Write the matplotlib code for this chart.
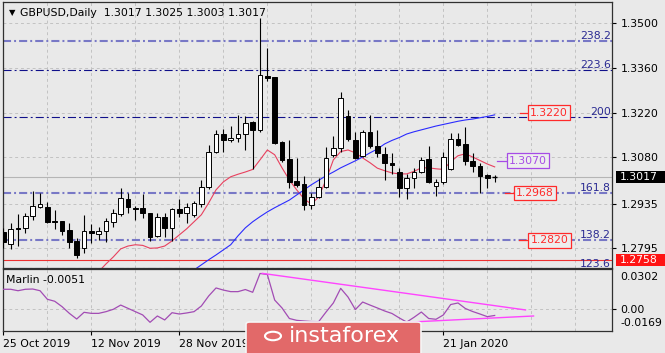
import matplotlib
matplotlib.use('Agg')
import matplotlib.pyplot as plt
import matplotlib.transforms as mtransforms
from matplotlib.patches import Rectangle, FancyBboxPatch, Circle
import numpy as np

# ---------------- data ----------------
symbol_title = "GBPUSD,Daily"
title_ohlc = ["1.3017", "1.3025", "1.3003", "1.3017"]

opens = [1.2847, 1.2808, 1.2859, 1.2860, 1.2896, 1.2924, 1.2924, 1.2880, 1.2879, 1.2852,
         1.2818, 1.2795, 1.2849, 1.2841, 1.2848, 1.2876, 1.2901, 1.2948, 1.2922, 1.2922,
         1.2905, 1.2833, 1.2892, 1.2858, 1.2917, 1.2905, 1.2899, 1.2934, 1.2988, 1.3098,
         1.3153, 1.3134, 1.3140, 1.3152, 1.3190, 1.3166, 1.3336, 1.3331, 1.3127, 1.3074,
         1.3006, 1.2995, 1.2931, 1.2957, 1.2988, 1.3087, 1.3108, 1.3209, 1.3134, 1.3085,
         1.3160, 1.3116, 1.3091, 1.3063, 1.3035, 1.2983, 1.3014, 1.3035, 1.3074, 1.2989,
         1.3003, 1.3043, 1.3137, 1.3121, 1.3068, 1.3053, 1.3025, 1.3017]
highs = [1.2857, 1.2874, 1.2902, 1.2905, 1.2973, 1.2968, 1.2939, 1.2915, 1.2881, 1.2874,
         1.2826, 1.2899, 1.2871, 1.2863, 1.2889, 1.2918, 1.2983, 1.2968, 1.2928, 1.2964,
         1.2906, 1.2906, 1.2906, 1.2920, 1.2948, 1.2938, 1.2944, 1.3009, 1.3119, 1.3166,
         1.3168, 1.3178, 1.3213, 1.3210, 1.3194, 1.3516, 1.3424, 1.3333, 1.3131, 1.3134,
         1.3079, 1.3022, 1.2968, 1.3014, 1.3113, 1.3148, 1.3284, 1.3228, 1.3160, 1.3166,
         1.3213, 1.3166, 1.3113, 1.3093, 1.3046, 1.3028, 1.3046, 1.3082, 1.3117, 1.3012,
         1.3098, 1.3155, 1.3155, 1.3175, 1.3093, 1.3062, 1.3028, 1.3025]
lows = [1.2797, 1.2793, 1.2803, 1.2842, 1.2884, 1.2920, 1.2874, 1.2855, 1.2837, 1.2797,
        1.2764, 1.2780, 1.2811, 1.2821, 1.2816, 1.2863, 1.2897, 1.2906, 1.2882, 1.2889,
        1.2819, 1.2831, 1.2831, 1.2819, 1.2894, 1.2875, 1.2894, 1.2925, 1.2980, 1.3094,
        1.3098, 1.3129, 1.3129, 1.3103, 1.3043, 1.3159, 1.3319, 1.3122, 1.3066, 1.2983,
        1.2988, 1.2915, 1.2918, 1.2952, 1.2983, 1.3082, 1.3098, 1.3131, 1.3075, 1.3082,
        1.3109, 1.3081, 1.3009, 1.3028, 1.2957, 1.2949, 1.2983, 1.3030, 1.3000, 1.2959,
        1.2996, 1.3040, 1.3114, 1.3056, 1.3035, 1.2968, 1.2984, 1.3003]
closes = [1.2814, 1.2854, 1.2856, 1.2897, 1.2927, 1.2934, 1.2876, 1.2877, 1.2849, 1.2814,
          1.2774, 1.2849, 1.2842, 1.2849, 1.2879, 1.2905, 1.2951, 1.2923, 1.2917, 1.2905,
          1.2830, 1.2894, 1.2858, 1.2917, 1.2905, 1.2925, 1.2936, 1.2988, 1.3098, 1.3153,
          1.3134, 1.3141, 1.3152, 1.3189, 1.3166, 1.3338, 1.3328, 1.3124, 1.3072, 1.3004,
          1.2993, 1.2931, 1.2957, 1.2988, 1.3079, 1.3108, 1.3265, 1.3137, 1.3077, 1.3160,
          1.3116, 1.3093, 1.3061, 1.3055, 1.2983, 1.3014, 1.3035, 1.3073, 1.3003, 1.3004,
          1.3081, 1.3136, 1.3119, 1.3068, 1.3053, 1.3020, 1.3014, 1.3017]

# red moving average (starts at bar 13), blue moving average (starts at bar 26)
red_ma_start = 13
red_ma = [1.2722, 1.2746, 1.2768, 1.2793, 1.2802, 1.2806, 1.2804, 1.2795, 1.2796, 1.2802,
          1.2818, 1.2837, 1.2856, 1.2878, 1.2900, 1.2937, 1.2978, 1.3003, 1.3019, 1.3027,
          1.3034, 1.3042, 1.3072, 1.3103, 1.3088, 1.3047, 1.3009, 1.2978, 1.2950, 1.2933,
          1.2956, 1.3009, 1.3072, 1.3098, 1.3103, 1.3094, 1.3078, 1.3063, 1.3046, 1.3038,
          1.3031, 1.3028, 1.3028, 1.3036, 1.3047, 1.3047, 1.3044, 1.3042, 1.3066, 1.3085,
          1.3091, 1.3081, 1.3070, 1.3059, 1.3050]
blue_ma_start = 26
blue_ma = [1.2727, 1.2743, 1.2759, 1.2774, 1.2790, 1.2806, 1.2834, 1.2859, 1.2878, 1.2894,
           1.2909, 1.2922, 1.2934, 1.2946, 1.2962, 1.2978, 1.2994, 1.3008, 1.3022, 1.3034,
           1.3047, 1.3058, 1.3069, 1.3081, 1.3094, 1.3106, 1.3122, 1.3133, 1.3142, 1.3153,
           1.3160, 1.3166, 1.3172, 1.3178, 1.3183, 1.3188, 1.3193, 1.3197, 1.3200, 1.3204,
           1.3208, 1.3213]

# Fibonacci levels
fib_labels = ["238.2", "223.6", "200", "161.8", "138.2", "123.6"]
fib_prices = [1.3445, 1.3354, 1.3207, 1.2968, 1.2820, 1.2730]
support_line = 1.2758
current_price = 1.3017

# price label boxes
box_texts = ["1.3220", "1.2968", "1.2820", "1.3070"]
box_prices = [1.3220, 1.2968, 1.2820, 1.3070]

price_ticks = [1.3500, 1.3360, 1.3220, 1.3080, 1.2935, 1.2795]
price_tick_labels = ["1.3500", "1.3360", "1.3220", "1.3080", "1.2935", "1.2795"]

# Marlin oscillator
marlin_name = "Marlin"
marlin_last = "-0.0051"
marlin = [0.0148, 0.0148, 0.0137, 0.0148, 0.0150, 0.0137, 0.0072, 0.0057, 0.0016, -0.0035,
          -0.0078, -0.0027, -0.0035, -0.0035, -0.0022, -0.0004, 0.0028, 0.0003, -0.0022, -0.0047,
          -0.0103, -0.0055, -0.0085, -0.0030, -0.0040, -0.0032, -0.0022, 0.0021, 0.0097, 0.0158,
          0.0142, 0.0130, 0.0130, 0.0146, 0.0125, 0.0268, 0.0260, 0.0066, 0.0006, -0.0074,
          -0.0088, -0.0093, -0.0097, -0.0098, -0.0025, 0.0044, 0.0155, 0.0089, -0.0006, 0.0051,
          0.0028, 0.0006, -0.0017, -0.0036, -0.0070, -0.0101, -0.0065, -0.0025, -0.0074, -0.0080,
          -0.0047, 0.0032, 0.0044, 0.0002, -0.0021, -0.0040, -0.0060, -0.0051]
marlin_max = 0.0302
marlin_min = -0.0169
upper_tl_bars = [35.3, 71.2]
upper_tl_vals = [0.0269, -0.0009]
lower_tl_bars = [54.8, 72.3]
lower_tl_vals = [-0.0103, -0.0055]

# date labels (the ones at bars 36 and 48 are hidden under the watermark in the reference)
date_bars = [0, 12, 24, 36, 48, 60]
date_labels = ["25 Oct 2019", "12 Nov 2019", "28 Nov 2019", "", "", "21 Jan 2020"]
grid_step = 6
watermark = "instaforex"

# ---------------- figure ----------------
W, H = 665, 353
BG = '#e9e9e9'
fs = 7.5
plt.rcParams['font.family'] = ['DejaVu Sans']
plt.rcParams['font.size'] = fs

fig = plt.figure(figsize=(W / 100, H / 100), dpi=100)
fig.patch.set_facecolor(BG)


def px_axes(l, t, r, b):
    return fig.add_axes([l / W, 1 - b / H, (r - l) / W, (b - t) / H])


ax = px_axes(3, 2, 612, 267.5)
ax2 = px_axes(3, 269, 612, 331)
XMIN, XMAX = -0.05, 83.0
for a in (ax, ax2):
    a.set_facecolor(BG)
    for s in a.spines.values():
        s.set_color('#303030')
        s.set_linewidth(0.9)
    a.set_xlim(XMIN, XMAX)

ax.set_ylim(1.27347, 1.35667)
ax2.set_ylim(marlin_min, marlin_max)

grid_kw = dict(color='#c2c2c2', lw=0.7, linestyle=(0, (3, 3)), zorder=0)
for gx in range(grid_step, int(XMAX) + 1, grid_step):
    ax.axvline(gx, **grid_kw)
    ax2.axvline(gx, **grid_kw)
for p in price_ticks:
    ax.axhline(p, **grid_kw)
ax2.axhline(0.0, **grid_kw)

# current price line
ax.axhline(current_price, color='#b5b5b5', lw=0.8, zorder=1)

# fib levels
fib_styles = {
    "238.2": ('#7878c6', 1.5), "223.6": ('#10108a', 0.8), "200": ('#10108a', 0.8),
    "161.8": ('#7878c6', 1.5), "138.2": ('#7878c6', 1.5), "123.6": ('#7878c6', 1.5),
}
blend = mtransforms.blended_transform_factory(ax.transAxes, ax.transData)
for lab, p in zip(fib_labels, fib_prices):
    col, lw = fib_styles[lab]
    dash = (0, (5.8 / lw, 2.2 / lw, 1.4 / lw, 2.2 / lw))
    ax.axhline(p, color=col, lw=lw, linestyle=dash, zorder=1)
    ax.annotate(lab, xy=(0.998, p), xycoords=blend, xytext=(0, 1.6), textcoords='offset points',
                ha='right', va='baseline', color='#2a2a92', fontsize=fs + 0.3, zorder=6,
                annotation_clip=False)

ax.axhline(support_line, color='#ee3030', lw=0.8, zorder=1)

# moving averages
ax.plot(np.arange(red_ma_start, red_ma_start + len(red_ma)), red_ma, color='#e8405e', lw=0.8, zorder=2)
ax.plot(np.arange(blue_ma_start, blue_ma_start + len(blue_ma)), blue_ma, color='#2b2bff', lw=0.8, zorder=2)

# candles
x = np.arange(len(opens))
ax.vlines(x, lows, highs, color='black', lw=0.8, zorder=3)
for i in range(len(opens)):
    o, c = opens[i], closes[i]
    if abs(c - o) < 0.00015:
        ax.hlines(o, i - 0.3, i + 0.3, color='black', lw=1.0, zorder=4)
    else:
        fc = 'white' if c > o else 'black'
        ax.bar(i, c - o, bottom=o, width=0.6, facecolor=fc, edgecolor='black', lw=0.7, zorder=4)

# price boxes
box_colors = ['#ff2a2a', '#ff2a2a', '#ff2a2a', '#a64be6']
box_conn = [(70.45, 71.54), (68.41, 69.64), (70.32, 71.58), (67.36, 68.64)]
for t, p, col, (c0, c1) in zip(box_texts, box_prices, box_colors, box_conn):
    ax.plot([c0, c1], [p, p], color=col, lw=0.9, zorder=5, clip_on=False)
    ax.text(c1 + 0.3, p, t, color=col, ha='left', va='center', fontsize=fs + 0.3, zorder=6,
            bbox=dict(boxstyle='square,pad=0.22', fc='#ededed', ec=col, lw=0.9))

# right axis
ax.yaxis.tick_right()
ax.set_yticks(price_ticks)
ax.set_yticklabels(price_tick_labels)
ax.tick_params(axis='y', direction='out', length=3, width=0.8, pad=3, labelsize=fs + 0.3, colors='black')
ax.set_xticks([])

fblend = mtransforms.blended_transform_factory(fig.transFigure, ax.transData)
ppx = (1.35667 - 1.27347) / 265.5
for p, t, fc in [(current_price, "1.3017", 'black'), (support_line, "1.2758", '#ff1414')]:
    r = Rectangle((615.5 / W, p - 6 * ppx), (W - 615.5) / W, 12 * ppx, transform=fblend,
                  facecolor=fc, edgecolor='none', clip_on=False, zorder=7)
    ax.add_patch(r)
    ax.text(620 / W, p, t, transform=fblend, color='white', ha='left', va='center',
            fontsize=fs + 0.3, zorder=8, clip_on=False)

# title
ax.text(6 / 609, 1 - 10.5 / 265.5, "\u25BC", transform=ax.transAxes, fontsize=6, va='center', ha='left')
ax.text(17 / 609, 1 - 10.5 / 265.5, symbol_title + "  " + " ".join(title_ohlc), transform=ax.transAxes,
        fontsize=fs + 0.3, va='center', ha='left', color='black')

# Marlin panel
ax2.plot(x, marlin, color='#a24cb4', lw=0.9, zorder=3)
ax2.plot(upper_tl_bars, upper_tl_vals, color='#ff44ff', lw=1.0, zorder=3)
ax2.plot(lower_tl_bars, lower_tl_vals, color='#ff44ff', lw=1.0, zorder=3)
ax2.text(3.5 / 609, 1 - 11 / 62, marlin_name + " " + marlin_last, transform=ax2.transAxes,
         fontsize=fs + 0.3, va='center', ha='left')
ax2.yaxis.tick_right()
ax2.set_yticks([0.0])
ax2.set_yticklabels(["0.00"])
ax2.tick_params(axis='y', direction='out', length=3, width=0.8, pad=3, labelsize=fs + 0.3)
blend2 = mtransforms.blended_transform_factory(ax2.transAxes, ax2.transData)
ax2.annotate("0.0302", xy=(1, marlin_max), xycoords=blend2, xytext=(5.8, -5.8), textcoords='offset points',
             ha='left', va='center', fontsize=fs + 0.3, annotation_clip=False)
ax2.annotate("-0.0169", xy=(1, marlin_min), xycoords=blend2, xytext=(5.8, 5.8), textcoords='offset points',
             ha='left', va='center', fontsize=fs + 0.3, annotation_clip=False)

ax2.set_xticks(date_bars)
ax2.set_xticklabels(date_labels, ha='left')
ax2.tick_params(axis='x', direction='out', length=3, width=0.8, pad=2.5, labelsize=fs + 0.3)

# watermark
wm = FancyBboxPatch((246 / W, 1 - 360 / H), (421 - 246) / W, (360 - 322) / H,
                    boxstyle='round,pad=0,rounding_size=0.006', transform=fig.transFigure,
                    facecolor='#e26969', edgecolor='#f6f6f6', lw=1.2, zorder=20)
fig.patches.append(wm)
fig.text(289 / W, 1 - 336 / H, watermark, color='white', fontsize=16, ha='left', va='center',
         zorder=21)
fig.patches.append(Circle((273 / W, 1 - 336 / H), 8 / W, transform=fig.transFigure, facecolor='none',
                          edgecolor='white', lw=1.5, zorder=21))

fig.savefig('out.png', dpi=100, facecolor=BG)
